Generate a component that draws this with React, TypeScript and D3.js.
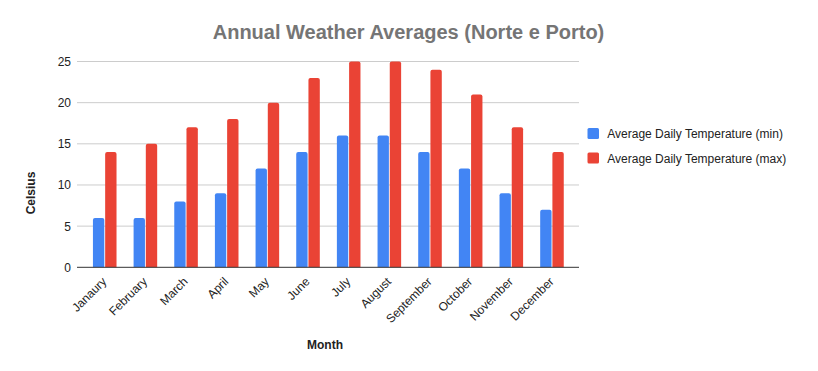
import React from "react";
import * as d3 from "d3";

const months = ["Janaury", "February", "March", "April", "May", "June", "July", "August", "September", "October", "November", "December"];
const tempMin = [6, 6, 8, 9, 12, 14, 16, 16, 14, 12, 9, 7];
const tempMax = [14, 15, 17, 18, 20, 23, 25, 25, 24, 21, 17, 14];
const yTicks = [0, 5, 10, 15, 20, 25];
const seriesNames = ["Average Daily Temperature (min)", "Average Daily Temperature (max)"];
const colors = ["#4285f4", "#ea4335"];

const W = 818, H = 371;
const plotL = 77, plotR = 579, plotT = 61.5, plotB = 267.3;
const font = "Arial, 'Liberation Sans', sans-serif";

function topRoundedRect(x: number, y: number, w: number, h: number, r: number) {
  const rr = Math.min(r, h, w / 2);
  const p = d3.path();
  p.moveTo(x, y + h);
  p.lineTo(x, y + rr);
  p.quadraticCurveTo(x, y, x + rr, y);
  p.lineTo(x + w - rr, y);
  p.quadraticCurveTo(x + w, y, x + w, y + rr);
  p.lineTo(x + w, y + h);
  p.closePath();
  return p.toString();
}

export default function App() {
  const x0 = d3.scaleBand<string>().domain(months).range([84.4, 572.3]).paddingInner(0).paddingOuter(0);
  const groupInner = 0.42;
  const groupW = x0.bandwidth() * (1 - groupInner);
  const x1 = d3.scaleBand<number>().domain([0, 1]).range([0, groupW]).paddingInner(0.07);
  const y = d3.scaleLinear().domain([0, 25]).range([plotB, plotT]);
  const series = [tempMin, tempMax];

  return (
    <svg width={W} height={H} style={{ position: "absolute", left: 0, top: 0, background: "#fff" }} fontFamily={font}>
      <rect x={0} y={0} width={W} height={H} fill="#fff" />
      <text x={408.5} y={39} textAnchor="middle" fontSize={20} fontWeight="bold" fill="#757575">
        Annual Weather Averages (Norte e Porto)
      </text>
      {yTicks.map((t) => (
        <g key={t}>
          {t !== 0 && <line x1={plotL} x2={plotR} y1={y(t)} y2={y(t)} stroke="#cccccc" strokeWidth={1} />}
          <text x={71} y={y(t) + 4.5} textAnchor="end" fontSize={12} fill="#222">{t}</text>
        </g>
      ))}
      {months.map((m, i) => {
        const gx = x0(m)! + (x0.bandwidth() - groupW) / 2;
        return (
          <g key={m}>
            {series.map((s, si) => {
              const bx = gx + x1(si)!;
              const by = y(s[i]);
              return <path key={si} d={topRoundedRect(bx, by, x1.bandwidth(), plotB - by, 2)} fill={colors[si]} />;
            })}
          </g>
        );
      })}
      <line x1={plotL} x2={plotR} y1={plotB} y2={plotB} stroke="#333" strokeWidth={1} />
      {months.map((m) => {
        const cx = x0(m)! + x0.bandwidth() / 2;
        return (
          <text key={m} transform={`translate(${cx + 2.5},${plotB + 15}) rotate(-45)`} textAnchor="end" fontSize={12} fill="#222">
            {m}
          </text>
        );
      })}
      <text x={325} y={349} textAnchor="middle" fontSize={12} fontWeight="bold" fill="#222">Month</text>
      <text transform={`translate(35,193) rotate(-90)`} textAnchor="middle" fontSize={12} fontWeight="bold" fill="#222">Celsius</text>
      {seriesNames.map((n, i) => (
        <g key={n}>
          <rect x={587.5} y={128 + i * 24.5} width={11.5} height={11} rx={1.5} fill={colors[i]} />
          <text x={607.3} y={138 + i * 24.5} fontSize={12} fill="#222">{n}</text>
        </g>
      ))}
    </svg>
  );
}
